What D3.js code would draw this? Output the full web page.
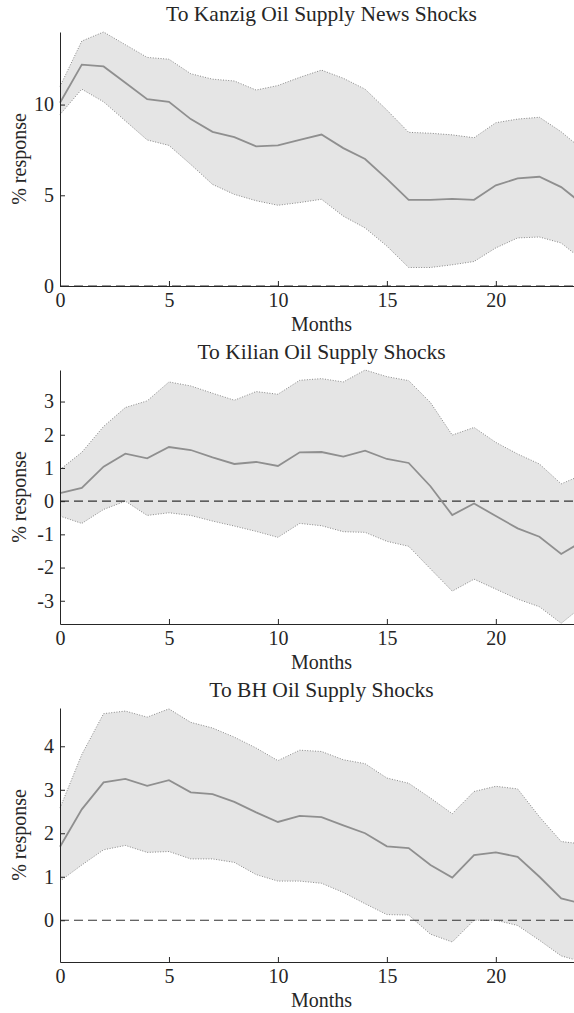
<!DOCTYPE html>
<html>
<head>
<meta charset="utf-8">
<script src="https://cdn.jsdelivr.net/npm/d3@7"></script>
<style>
  body { margin: 0; background: #fff; }
  svg { display: block; }
  text { font-family: "Liberation Serif", "Times New Roman", serif; fill: #262626; }
</style>
</head>
<body>
<svg id="chart" width="574" height="1013"></svg>
<script>
// Horizon in months (0..24)
const months = d3.range(0, 25);
const monthTicks = [0, 5, 10, 15, 20];

// Response to Kanzig oil supply news shocks: median and 68% band
const kanzigMean  = [10.1, 12.2, 12.1, 11.2, 10.3, 10.15, 9.2, 8.5, 8.2, 7.7, 7.75, 8.05, 8.35, 7.6, 7.0, 5.9, 4.75, 4.75, 4.8, 4.75, 5.55, 5.93, 6.02, 5.45, 4.5];
const kanzigUpper = [11.0, 13.5, 14.0, 13.3, 12.6, 12.5, 11.7, 11.4, 11.3, 10.8, 11.05, 11.5, 11.9, 11.45, 10.85, 9.7, 8.47, 8.42, 8.33, 8.17, 9.0, 9.2, 9.3, 8.5, 7.5];
const kanzigLower = [9.45, 10.85, 10.15, 9.1, 8.05, 7.75, 6.7, 5.6, 5.05, 4.7, 4.45, 4.6, 4.78, 3.85, 3.2, 2.2, 1.02, 1.02, 1.17, 1.35, 2.1, 2.65, 2.7, 2.37, 1.4];
const kanzigTicks = [0, 5, 10];

// Response to Kilian oil supply shocks
const kilianMean  = [0.24, 0.40, 1.04, 1.43, 1.29, 1.63, 1.54, 1.32, 1.12, 1.18, 1.06, 1.47, 1.48, 1.34, 1.52, 1.27, 1.15, 0.45, -0.42, -0.07, -0.45, -0.82, -1.07, -1.59, -1.2];
const kilianUpper = [0.95, 1.47, 2.25, 2.82, 3.02, 3.59, 3.47, 3.25, 3.04, 3.3, 3.22, 3.64, 3.69, 3.59, 3.95, 3.75, 3.63, 2.97, 1.99, 2.22, 1.77, 1.42, 1.12, 0.52, 0.8];
const kilianLower = [-0.45, -0.67, -0.25, 0.0, -0.43, -0.35, -0.43, -0.6, -0.75, -0.91, -1.09, -0.67, -0.74, -0.92, -0.94, -1.21, -1.36, -2.04, -2.71, -2.35, -2.65, -2.95, -3.18, -3.68, -3.15];
const kilianTicks = [-3, -2, -1, 0, 1, 2, 3];

// Response to Baumeister-Hamilton oil supply shocks
const bhMean  = [1.69, 2.55, 3.17, 3.25, 3.09, 3.22, 2.94, 2.9, 2.72, 2.48, 2.26, 2.4, 2.37, 2.18, 2.0, 1.7, 1.66, 1.27, 0.98, 1.5, 1.56, 1.46, 1.0, 0.5, 0.38];
const bhUpper = [2.58, 3.81, 4.75, 4.81, 4.67, 4.86, 4.55, 4.42, 4.21, 3.96, 3.67, 3.91, 3.88, 3.69, 3.6, 3.27, 3.15, 2.81, 2.45, 2.96, 3.08, 3.02, 2.38, 1.81, 1.75];
const bhLower = [0.9, 1.27, 1.62, 1.72, 1.56, 1.58, 1.41, 1.41, 1.33, 1.05, 0.9, 0.9, 0.85, 0.64, 0.38, 0.13, 0.12, -0.32, -0.5, 0.0, 0.0, -0.12, -0.46, -0.82, -0.96];
const bhTicks = [0, 1, 2, 3, 4];

const panels = [
  { title: "To Kanzig Oil Supply News Shocks", mean: kanzigMean, upper: kanzigUpper, lower: kanzigLower, ticks: kanzigTicks, domain: [0, 14] },
  { title: "To Kilian Oil Supply Shocks",      mean: kilianMean, upper: kilianUpper, lower: kilianLower, ticks: kilianTicks, domain: [-3.7, 3.95] },
  { title: "To BH Oil Supply Shocks",          mean: bhMean,     upper: bhUpper,     lower: bhLower,     ticks: bhTicks,     domain: [-0.96, 4.88] }
];

const svg = d3.select("#chart");
const left = 60, right = 583;      // month 0 .. month 24
const plotH = 254, firstTop = 32, step = 338;
const fontSize = 20;
const titleSize = 21.5;

const x = d3.scaleLinear().domain([0, 24]).range([left, right]);

panels.forEach((p, i) => {
  const top = firstTop + i * step;
  const bottom = top + plotH;
  const y = d3.scaleLinear().domain(p.domain).range([bottom, top]);
  const g = svg.append("g");

  // confidence band
  const area = d3.area()
    .x((d, k) => x(months[k]))
    .y0((d, k) => y(p.lower[k]))
    .y1((d, k) => y(p.upper[k]));
  g.append("path")
    .datum(months)
    .attr("d", area)
    .attr("fill", "#e5e5e5")
    .attr("stroke", "none");

  const line = arr => d3.line().x((d, k) => x(months[k])).y((d, k) => y(arr[k]))(months);

  // band edges, dotted
  [p.upper, p.lower].forEach(arr => {
    g.append("path")
      .attr("d", line(arr))
      .attr("fill", "none")
      .attr("stroke", "#7d7d7d")
      .attr("stroke-width", 0.9)
      .attr("stroke-dasharray", "1,1.6");
  });

  // zero reference line
  g.append("line")
    .attr("x1", x(0)).attr("x2", x(24))
    .attr("y1", y(0)).attr("y2", y(0))
    .attr("stroke", "#333")
    .attr("stroke-width", 1.1)
    .attr("stroke-dasharray", "9,5");

  // median response
  g.append("path")
    .attr("d", line(p.mean))
    .attr("fill", "none")
    .attr("stroke", "#8f8f8f")
    .attr("stroke-width", 1.8);

  // axes with inward ticks
  const yAxis = d3.axisLeft(y)
    .tickValues(p.ticks)
    .tickFormat(d => String(d))
    .tickSize(-5)
    .tickSizeOuter(0)
    .tickPadding(6);
  const xAxis = d3.axisBottom(x)
    .tickValues(monthTicks)
    .tickFormat(d => String(d))
    .tickSize(-5)
    .tickSizeOuter(0)
    .tickPadding(7);

  const ya = g.append("g").attr("transform", `translate(${left},0)`).call(yAxis);
  const xa = g.append("g").attr("transform", `translate(0,${bottom})`).call(xAxis);
  [ya, xa].forEach(a => {
    a.selectAll("path.domain").attr("stroke", "#262626").attr("stroke-width", 1);
    a.selectAll(".tick line").attr("stroke", "#262626").attr("stroke-width", 1);
    a.selectAll("text")
      .attr("font-family", "Liberation Serif, serif")
      .attr("font-size", fontSize)
      .attr("fill", "#262626");
  });

  // title
  g.append("text")
    .attr("x", (left + right) / 2)
    .attr("y", top - 11)
    .attr("text-anchor", "middle")
    .attr("font-size", titleSize)
    .text(p.title);

  // x label
  g.append("text")
    .attr("x", (left + right) / 2)
    .attr("y", bottom + 45)
    .attr("text-anchor", "middle")
    .attr("font-size", fontSize)
    .text("Months");

  // y label
  g.append("text")
    .attr("transform", `translate(26,${(top + bottom) / 2}) rotate(-90)`)
    .attr("text-anchor", "middle")
    .attr("font-size", fontSize)
    .text("% response");
});
</script>
</body>
</html>
